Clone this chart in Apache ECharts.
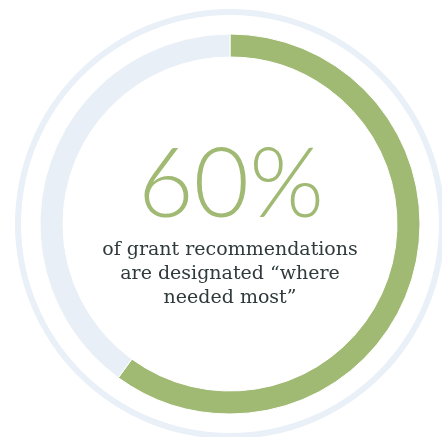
<!DOCTYPE html>
<html>
<head>
<meta charset="utf-8">
<script src="https://cdn.jsdelivr.net/npm/echarts@6/dist/echarts.min.js"></script>
<style>
  html, body { margin: 0; padding: 0; background: #fff; }
  #main { width: 442px; height: 437px; }
</style>
</head>
<body>
<div id="main"></div>
<script>
var shareNames = ['Where needed most', 'Other'];
var shareValues = [60, 40];
var bigLabel = '60%';
var captionLines = ['of grant recommendations', 'are designated \u201cwhere', 'needed most\u201d'];

var dom = document.getElementById('main');
var myChart = echarts.init(dom, null, { renderer: 'canvas' });

var green = '#a0b973';
var pale = '#e8eff6';
var ink = '#2f3a3b';

var option = {
  animation: false,
  series: [
    {
      // thin outer ring
      type: 'pie',
      silent: true,
      center: [230, 224],
      radius: [209, 215],
      label: { show: false },
      itemStyle: { color: '#e9f0f7' },
      data: [{ value: 1, name: 'ring' }]
    },
    {
      type: 'pie',
      silent: true,
      center: [230, 224],
      radius: [167, 190],
      startAngle: 90,
      clockwise: true,
      label: { show: false },
      labelLine: { show: false },
      itemStyle: { borderColor: '#fff', borderWidth: 1 },
      color: [green, pale],
      data: shareNames.map(function (n, i) { return { name: n, value: shareValues[i] }; })
    }
  ],
  graphic: [
    {
      type: 'text',
      x: 231,
      y: 138,
      style: {
        text: bigLabel,
        font: '300 96px Lato',
        align: 'center',
        fill: green
      }
    },
    {
      type: 'text',
      x: 230,
      y: 238,
      style: {
        text: captionLines.join('\n'),
        font: '19px "DejaVu Serif"',
        lineHeight: 24,
        align: 'center',
        fill: ink
      }
    }
  ]
};

myChart.setOption(option);
window.addEventListener('resize', myChart.resize);
</script>
</body>
</html>
